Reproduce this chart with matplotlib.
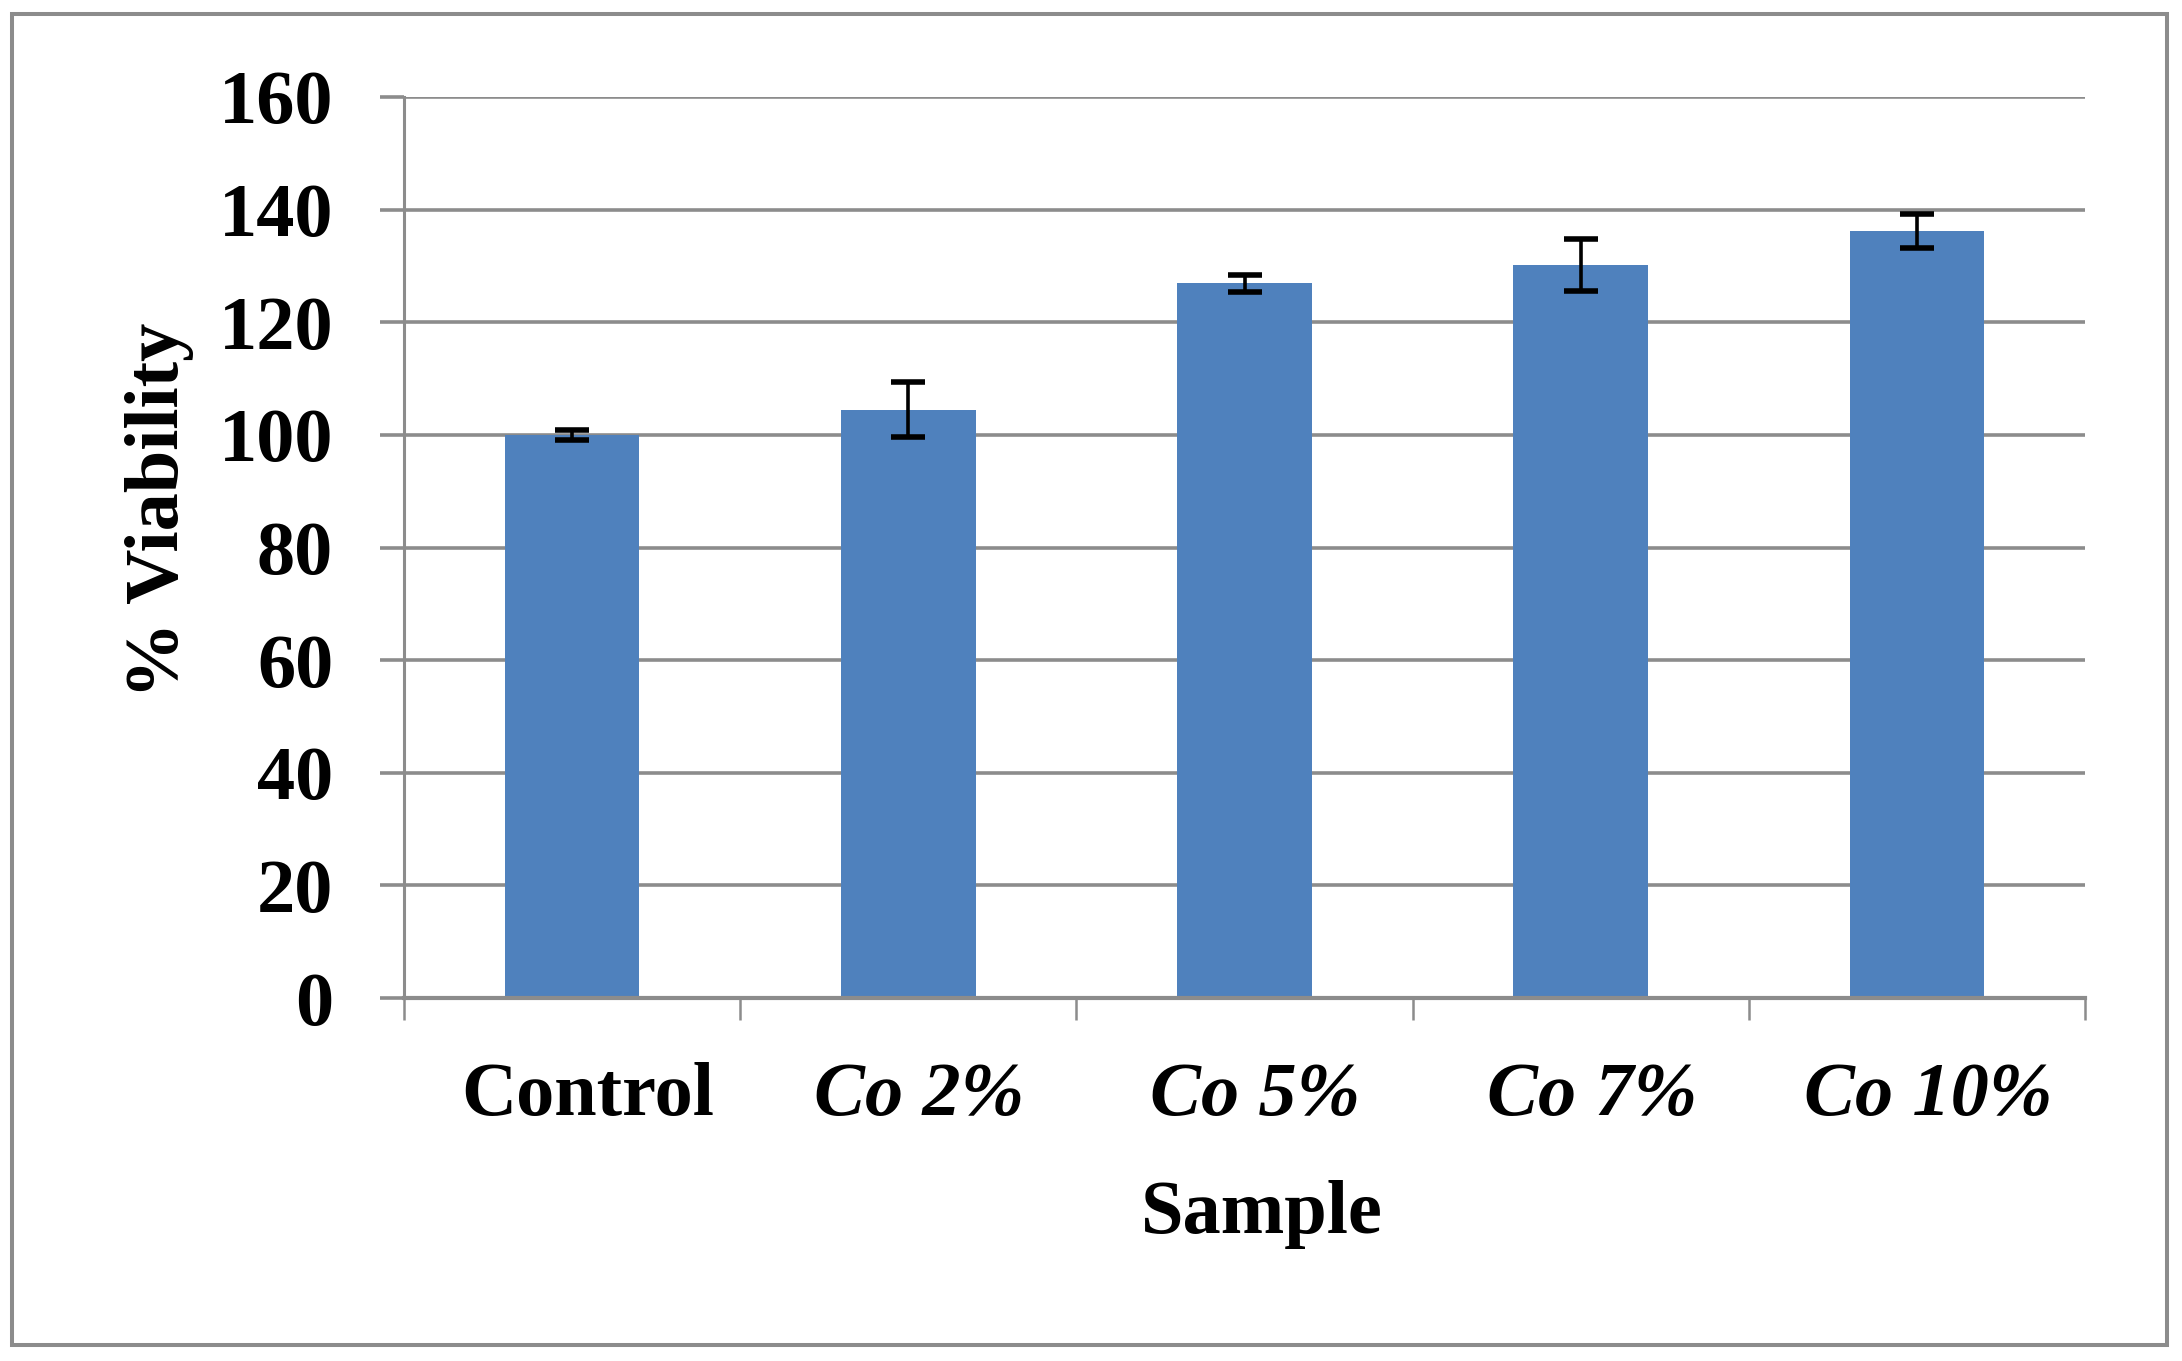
import matplotlib
matplotlib.use("Agg")
import matplotlib.pyplot as plt
import matplotlib.transforms as mtransforms
from matplotlib.patches import Rectangle
import numpy as np

categories = ["Control", "Co 2%", "Co 5%", "Co 7%", "Co 10%"]
italic_flags = [False, True, True, True, True]
viability = [100.0, 104.5, 126.9, 130.2, 136.2]
errors = [0.9, 4.9, 1.5, 4.6, 3.0]
yticks = [0, 20, 40, 60, 80, 100, 120, 140, 160]

W, H, DPI = 2182, 1361, 100
plt.rcParams['font.family'] = ['Liberation Serif', 'DejaVu Serif']
plt.rcParams['font.weight'] = 'bold'

fig = plt.figure(figsize=(W / DPI, H / DPI), dpi=DPI)
fig.patch.set_facecolor('white')

# axes placement (pixel coords from the reference)
ax_l, ax_r, ax_t, ax_b = 404, 2085, 97, 998
ax = fig.add_axes([ax_l / W, 1 - ax_b / H, (ax_r - ax_l) / W, (ax_b - ax_t) / H])

grey = '#8c8c8c'
bar_color = '#4f81bd'
FS = 55

x = np.arange(len(categories))
ax.bar(x, viability, width=0.40, color=bar_color, zorder=2)
ax.errorbar(x, viability, yerr=errors, fmt='none', ecolor='black',
            elinewidth=2.6, capsize=12, capthick=4.0, zorder=3)

ax.set_xlim(-0.5, len(categories) - 0.5)
ax.set_ylim(0, 160)
ax.set_yticks(yticks)
ax.set_yticklabels([str(v) for v in yticks], fontsize=FS, fontweight='bold')
ax.yaxis.grid(True, color=grey, linewidth=2.6, zorder=0)
ax.set_axisbelow(True)

ax.tick_params(axis='y', which='major', length=17, width=2.6, color=grey,
               pad=34, direction='out')

# x: labels at category centres, ticks at category boundaries
ax.set_xticks(x)
ax.set_xticklabels(categories, fontsize=FS, fontweight='bold')
ax.tick_params(axis='x', which='major', length=0, pad=46)
ax.set_xticks(np.arange(-0.5, len(categories)), minor=True)
ax.tick_params(axis='x', which='minor', length=16, width=1.8, color=grey, direction='out')
for lab, it in zip(ax.get_xticklabels(), italic_flags):
    lab.set_fontstyle('italic' if it else 'normal')
    off = mtransforms.ScaledTranslation((11 if it else 16) / DPI, 0, fig.dpi_scale_trans)
    lab.set_transform(lab.get_transform() + off)

for s in ['top', 'right']:
    ax.spines[s].set_visible(False)
ax.spines['left'].set_color(grey)
ax.spines['left'].set_linewidth(2.2)
ax.spines['bottom'].set_color(grey)
ax.spines['bottom'].set_linewidth(3.0)

# axis titles
fig.text(159 / W, 1 - 510 / H, "% Viability", rotation=90, ha='center', va='center',
         fontsize=FS, fontweight='bold')
fig.text(1262 / W, 1 - 1233 / H, "Sample", ha='center', va='baseline',
         fontsize=FS, fontweight='bold')

# outer chart frame
fig.patches.append(Rectangle((12 / W, 1 - 1345 / H), (2167 - 12) / W, (1345 - 14) / H,
                             transform=fig.transFigure, fill=False,
                             edgecolor=grey, linewidth=2.9, zorder=0))

fig.savefig("out.png", dpi=DPI, facecolor='white')
